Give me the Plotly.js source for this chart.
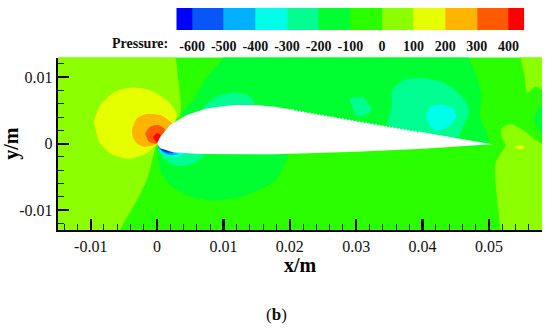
<!DOCTYPE html>
<html><head><meta charset="utf-8">
<script src="https://cdn.plot.ly/plotly-3.0.1.min.js"></script>
<style>html,body{margin:0;padding:0;background:#fff}#c{width:550px;height:330px}</style>
</head><body><div id="c"></div>
<script>
// Pressure scale
const levelEdges = [-650,-600,-500,-400,-300,-200,-100,0,100,200,300,400,450];
const levelTicks = [-600,-500,-400,-300,-200,-100,0,100,200,300,400];
const levelColors = ['#0000ff','#0a55f5','#00b0ff','#00ffe8','#00ff90','#00ff30','#2aff00','#8cff00','#e6ff00','#ffb400','#ff5a00','#ff0000'];

// Axis ticks (metres)
const xTicks = [-0.01,0,0.01,0.02,0.03,0.04,0.05];
const xLabels = ['-0.01','0','0.01','0.02','0.03','0.04','0.05'];
const yTicks = [-0.01,0,0.01];
const yLabels = ['-0.01','0','0.01'];

// Contour regions, in millimetres: [x...], [y...]
const bgX = [-20,70,70,-20], bgY = [-20,-20,20,20];
const leftX = [-20,2.2,3.2,3.6,3.45,1.5,0,-1.55,-3.55,-5.55,-6.5,-20];
const leftY = [20,14,9.55,5.55,4.3,2.5,0,-5.45,-9.45,-13,-20,-20];
const upperX = [11,9.95,7.5,5.45,3.7,10,30,50,48.7,48.9,48,47,46];
const upperY = [16,13,10,6.55,4.3,3,1,0,4.05,7.55,10.55,13,16];
const lowerX = [0,0.45,1.95,4.95,8.45,12.95,17.7,19,19.8,10];
const lowerY = [-0.5,-3.95,-6.2,-7.95,-8.55,-7.95,-5.7,-3.5,-1.7,-1];
const topRightX = [54.5,54.8,55.3,55.8,57,58,70,70];
const topRightY = [20,13,10.55,7.65,8.55,8.15,8,20];
const botRightX = [70,58,55.5,53.3,51.9,52,52.5,51,51.25,51.75,52,70];
const botRightY = [-1,0.05,1.8,2.95,2.3,0.8,-0.2,-2.95,-8.45,-13,-20,-20];
const edgePatchX = [60,58,57,56.8,58,60], edgePatchY = [7,5.8,4.55,3.3,1.55,0];
const hotSpotX = [53.8,54.8,55.4,54.8], hotSpotY = [-0.45,-0.2,-0.55,-0.95];
const lobe1X = [-9.55,-8.55,-6.3,-3.8,-1.05,1.45,2.95,2.7,0,-1.55,-4.3,-7.05,-8.8];
const lobe1Y = [3.3,5.8,7.8,8.45,8.05,6.55,4.55,3.3,0,-1.45,-2.3,-1.45,0.3];
const lobe2X = [-3.8,-3.05,-1.55,0.45,1.7,2.45,0,-2.05,-3.05,-3.7];
const lobe2Y = [2.05,3.8,4.45,4.3,3.55,2.8,0,-0.45,0.05,1.05];
const lobe3X = [-1.8,-1.05,0.2,1.2,0,-1.3], lobe3Y = [1.55,2.55,2.8,2.05,0.05,0.3];
const lobe4X = [-0.65,-0.05,0.55,-0.05], lobe4Y = [0.95,1.55,1.3,0.15];
const suctionAX = [6.7,8.45,11.45,13.7,14.7,10], suctionAY = [5.05,6.8,7.65,7.3,5.8,4];
const suctionBX = [29,31,32.3,31.4,29.9], suctionBY = [6.8,6.95,5.05,4.3,4.15];
const suctionCX = [34.65,35.4,35.4,37.2,40.45,43.45,46.2,47,46,45.2,40];
const suctionCY = [2.8,6.05,8.05,9.55,9.8,9.05,6.8,4.8,2.3,0.95,1];
const cyanCoreX = [40.45,41.2,42.95,44.7,45.05,44.2,42,41.05];
const cyanCoreY = [4.05,5.55,5.9,5.3,4.05,2.8,1.9,2.8];
const underAX = [0.2,0.95,2.45,3.95,5.95,7.05,4,1];
const underAY = [-0.95,-2.2,-3.2,-3.35,-2.7,-1.75,-1,-0.5];
const underBX = [0.1,1,2.5,3.6,4.2,2], underBY = [-0.5,-1.6,-1.95,-1.9,-1.4,-1];
const underCX = [0.1,0.9,2,3.2,2], underCY = [-0.45,-1.35,-1.75,-1.6,-1];
const underDX = [0.1,0.8,1.7,2.5,1.5], underDY = [-0.4,-1.1,-1.45,-1.4,-0.8];
const underEX = [0.2,1,1.8,1], underEY = [-0.4,-1.05,-1.3,-0.8];

// Aerofoil outline (mm), with the serrated stretch on the upper surface
const foilX = [0,0.45,1.95,4.45,7.45,11.45,14.95,17.7,20.3,
 20.5,20.75,21,21.25,21.5,21.75,22,22.25,22.5,22.75,23,23.25,23.5,23.75,24,24.25,24.5,24.75,25,25.25,25.5,25.75,
 26,26.25,26.5,26.75,27,27.25,27.5,27.75,28,28.25,28.5,28.75,29,29.25,29.5,29.75,30,30.25,30.5,30.75,
 31,31.25,31.5,31.75,32,32.25,32.5,32.75,33,33.25,33.5,33.75,34,34.25,34.5,34.75,35,35.25,35.5,35.75,
 36,36.25,36.5,36.75,37,37.25,37.5,37.75,38,38.25,38.5,38.75,39,39.25,39.4,
 45,50.5,40,30,17.7,6.45,2.45,0.45];
const foilY = [0,0.95,2.8,4.3,5.3,5.8,5.8,5.55,5.15,
 5.17,4.9,5.08,4.81,4.99,4.73,4.9,4.64,4.82,4.55,4.73,4.46,4.64,4.38,4.55,4.29,4.47,4.2,4.38,4.11,4.29,4.03,
 4.2,3.94,4.12,3.85,4.03,3.76,3.94,3.68,3.85,3.59,3.77,3.5,3.68,3.41,3.59,3.33,3.5,3.24,3.42,3.15,
 3.33,3.06,3.24,2.98,3.15,2.89,3.07,2.8,2.98,2.71,2.89,2.63,2.8,2.54,2.72,2.45,2.63,2.36,2.54,2.28,
 2.45,2.19,2.37,2.1,2.28,2.01,2.19,1.93,2.1,1.84,2.02,1.75,1.93,1.66,1.85,
 0.85,-0.1,-0.75,-1.2,-1.6,-1.55,-1.3,-0.7];

const toMetres = a => a.map(v => v / 1000);
function region(xs, ys, color, shape) {
  return {type:'scatter', mode:'lines', x:toMetres(xs), y:toMetres(ys), fill:'toself', fillcolor:color,
    line:{width:0, color:color, shape:shape||'spline', smoothing:0.7}, hoverinfo:'skip', showlegend:false};
}
const C = levelColors;
const traces = [
  region(bgX,bgY,C[6],'linear'),
  region(leftX,leftY,C[7]),
  region(upperX,upperY,C[5]),
  region(lowerX,lowerY,C[5]),
  region(topRightX,topRightY,C[7]),
  region(botRightX,botRightY,C[7]),
  region(edgePatchX,edgePatchY,C[5]),
  region(hotSpotX,hotSpotY,C[8]),
  region(lobe1X,lobe1Y,C[8]),
  region(lobe2X,lobe2Y,C[9]),
  region(lobe3X,lobe3Y,C[10]),
  region(lobe4X,lobe4Y,C[11]),
  region(suctionAX,suctionAY,C[4]),
  region(suctionBX,suctionBY,C[4]),
  region(suctionCX,suctionCY,C[4]),
  region(cyanCoreX,cyanCoreY,C[3]),
  region(underAX,underAY,C[4]),
  region(underBX,underBY,C[3]),
  region(underCX,underCY,C[2]),
  region(underDX,underDY,C[1]),
  region(underEX,underEY,C[0]),
  region(foilX,foilY,'#ffffff','linear'),
  {type:'heatmap', x:levelEdges, y:[0,1], z:[levelColors.map((c,i)=>i)], xaxis:'x2', yaxis:'y2',
   zmin:0, zmax:levelColors.length-1, showscale:false, hoverinfo:'skip',
   colorscale:levelColors.flatMap((c,i)=>[[i/levelColors.length,c],[(i+1)/levelColors.length,c]])}
];

const W=550,H=330;
const serif='"Liberation Serif","Times New Roman",serif';
const layout = {
  width:W,height:H,margin:{l:0,r:0,t:0,b:0},paper_bgcolor:'#fff',plot_bgcolor:'#fff',showlegend:false,
  xaxis:{domain:[58/W,542/W],range:[-0.01493,0.058],anchor:'y',showgrid:false,zeroline:false,
    showline:true,linecolor:'#000',linewidth:2.3,
    tickmode:'array',tickvals:xTicks,ticktext:xLabels,ticks:'inside',ticklen:11,tickwidth:2.3,tickcolor:'#000',
    tickfont:{family:serif,size:16,color:'#111'},
    minor:{ticks:'inside',ticklen:6,tickwidth:1,tickcolor:'#222',dtick:0.002,tick0:0,showgrid:false}},
  yaxis:{domain:[1-230/H,1-57.5/H],range:[-0.01298,0.01296],anchor:'x',showgrid:false,zeroline:false,
    showline:true,linecolor:'#000',linewidth:2.3,
    tickmode:'array',tickvals:yTicks,ticktext:yLabels,ticks:'inside',ticklen:11,tickwidth:2.3,tickcolor:'#000',
    tickfont:{family:serif,size:16,color:'#111'},
    minor:{ticks:'inside',ticklen:6,tickwidth:1,tickcolor:'#222',dtick:0.002,tick0:0,showgrid:false},
    title:{text:'<b>y/m</b>',font:{family:serif,size:20,color:'#000'},standoff:1}},
  xaxis2:{domain:[176.3/W,524.3/W],range:[-650,450],anchor:'y2',showgrid:false,zeroline:false,showline:false,
    tickmode:'array',tickvals:levelTicks,ticktext:levelTicks.map(String),ticks:'outside',ticklen:3,tickcolor:'rgba(0,0,0,0)',
    tickfont:{family:serif,size:14,color:'#111',weight:'bold'}},
  yaxis2:{domain:[1-30/H,1-8/H],range:[0,1],anchor:'x2',showticklabels:false,ticks:'',showgrid:false,zeroline:false},
  annotations:[
    {xref:'paper',yref:'paper',x:300/W,y:1-265/H,xanchor:'center',yanchor:'middle',showarrow:false,text:'<b>x/m</b>',font:{family:serif,size:20,color:'#000'}},
    {xref:'paper',yref:'paper',x:110/W,y:1-43/H,xanchor:'left',yanchor:'middle',showarrow:false,text:'<b>Pressure:</b>',font:{family:serif,size:14,color:'#111'}},
    {xref:'paper',yref:'paper',x:276/W,y:1-314/H,xanchor:'center',yanchor:'middle',showarrow:false,text:'(<b>b</b>)',font:{family:serif,size:17,color:'#111'}}
  ]
};
Plotly.newPlot('c',traces,layout,{staticPlot:true,displayModeBar:false});
</script></body></html>
